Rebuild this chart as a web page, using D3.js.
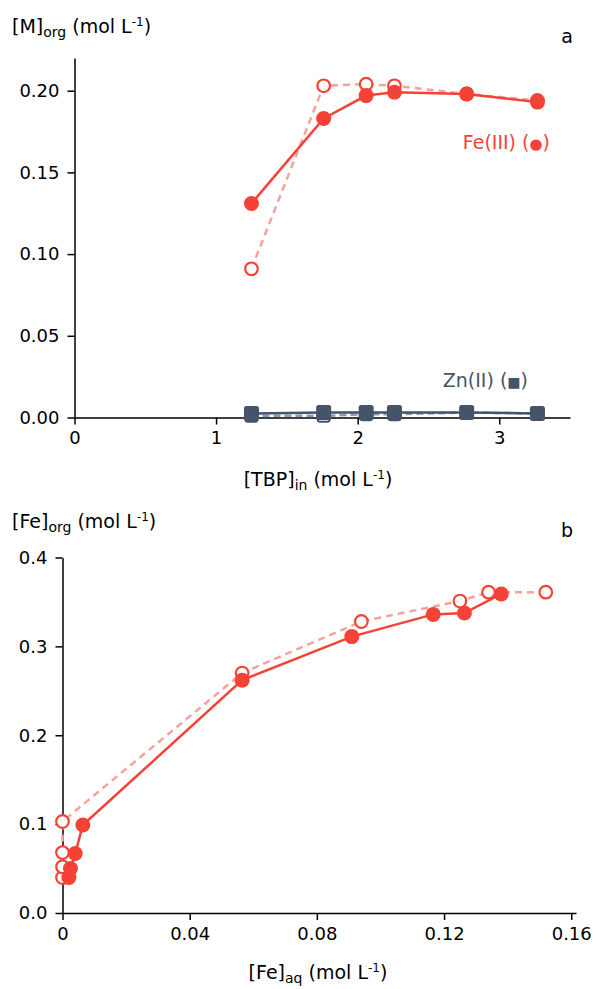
<!DOCTYPE html>
<html>
<head>
<meta charset="utf-8">
<script src="https://cdn.jsdelivr.net/npm/d3@7"></script>
<style>
  body { margin: 0; background: #fff; }
  svg { display: block; font-family: "DejaVu Sans", sans-serif; }
  .axis path, .axis line { stroke: #000; stroke-width: 1.5; }
  .axis text { font-size: 18px; fill: #000; font-family: "DejaVu Sans", sans-serif; }
</style>
</head>
<body>
<div id="chart"></div>
<script>
// panel a: [TBP]in vs [M]org
var tbp = [1.25, 1.76, 2.06, 2.26, 2.77, 3.27];
var feFilledA = [0.131, 0.183, 0.197, 0.199, 0.198, 0.193];
var feOpenA = [0.091, 0.203, 0.204, 0.203, 0.198, 0.194];
var znFilledA = [0.0025, 0.003, 0.003, 0.003, 0.003, 0.0025];
var znOpenA = [0.001, 0.001, 0.002, 0.002, 0.003, 0.0025];
var ticksXA = [0, 1, 2, 3];
var ticksYA = [0, 0.05, 0.10, 0.15, 0.20];

// panel b: [Fe]aq vs [Fe]org
var feAqFilled = [0.002, 0.0025, 0.004, 0.0064, 0.0565, 0.091, 0.1166, 0.1264, 0.138];
var feOrgFilled = [0.040, 0.050, 0.067, 0.099, 0.262, 0.311, 0.336, 0.3375, 0.359];
var feAqOpen = [0, 0, 0, 0, 0.0565, 0.094, 0.125, 0.134, 0.152];
var feOrgOpen = [0.040, 0.052, 0.068, 0.103, 0.270, 0.328, 0.351, 0.361, 0.361];
var ticksXB = [0, 0.04, 0.08, 0.12, 0.16];
var ticksYB = [0, 0.1, 0.2, 0.3, 0.4];

var feRed = "#F44336", fePink = "#F6A29C", znDark = "#44546A", znLight = "#8A9AB0";

var W = 597, H = 989;
var svg = d3.select("#chart").append("svg").attr("width", W).attr("height", H);

function zip(xs, ys) { return xs.map(function(x, i) { return [x, ys[i]]; }); }

function axes(x, y, xt, yt, xfmt, yfmt) {
    svg.append("g").attr("class", "axis")
        .attr("transform", "translate(0," + y.range()[0] + ")")
        .call(d3.axisBottom(x).tickValues(xt).tickFormat(xfmt).tickSize(7).tickSizeOuter(0).tickPadding(7));
    var gy = svg.append("g").attr("class", "axis")
        .attr("transform", "translate(" + x.range()[0] + ",0)")
        .call(d3.axisLeft(y).tickValues(yt).tickFormat(yfmt).tickSize(7).tickSizeOuter(0).tickPadding(6));
    gy.selectAll("text").attr("dx", -2);
}

function series(x, y, pts, color, width, dash) {
    svg.append("path").datum(pts)
        .attr("fill", "none").attr("stroke", color).attr("stroke-width", width)
        .attr("stroke-dasharray", dash || null)
        .attr("d", d3.line().x(function(d) { return x(d[0]); }).y(function(d) { return y(d[1]); }));
}

function circles(x, y, pts, open) {
    svg.append("g").selectAll("circle").data(pts).enter().append("circle")
        .attr("cx", function(d) { return x(d[0]); })
        .attr("cy", function(d) { return y(d[1]); })
        .attr("r", open ? 6.3 : 7.5)
        .attr("fill", open ? "#fff" : feRed)
        .attr("stroke", feRed).attr("stroke-width", open ? 2.2 : 0);
}

function squares(x, y, pts, open) {
    var s = open ? 12 : 15;
    svg.append("g").selectAll("rect").data(pts).enter().append("rect")
        .attr("x", function(d) { return x(d[0]) - s / 2; })
        .attr("y", function(d) { return y(d[1]) - s / 2; })
        .attr("width", s).attr("height", s).attr("rx", 2.5)
        .attr("fill", open ? "#fff" : znDark)
        .attr("stroke", znDark).attr("stroke-width", open ? 2 : 0);
}

function title(x, y, main, sub, anchor) {
    var t = svg.append("text").attr("x", x).attr("y", y).attr("font-size", 19)
        .attr("text-anchor", anchor || "start").attr("fill", "#000");
    t.append("tspan").text(main);
    t.append("tspan").attr("font-size", 14).attr("dy", 4).text(sub);
    t.append("tspan").attr("dy", -4).text(" (mol L");
    t.append("tspan").attr("font-size", 12).attr("dy", -7).text("-1");
    t.append("tspan").attr("dy", 7).text(")");
}

// ---- panel a
var xA = d3.scaleLinear().domain([0, 3.5]).range([74.5, 570]);
var yA = d3.scaleLinear().domain([0, 0.22]).range([417.5, 58]);
axes(xA, yA, ticksXA, ticksYA, d3.format("d"), d3.format(".2f"));

series(xA, yA, zip(tbp, znOpenA), znLight, 2.5, "7,4");
squares(xA, yA, zip(tbp, znOpenA), true);
series(xA, yA, zip(tbp, znFilledA), znDark, 2.5);
squares(xA, yA, zip(tbp, znFilledA), false);

series(xA, yA, zip(tbp, feOpenA), fePink, 2.5, "7,5");
circles(xA, yA, zip(tbp, feOpenA), true);
series(xA, yA, zip(tbp, feFilledA), feRed, 2.5);
circles(xA, yA, zip(tbp, feFilledA), false);

var feLab = svg.append("text").attr("x", 550).attr("y", 149).attr("text-anchor", "end")
    .attr("font-size", 19).attr("fill", feRed);
feLab.append("tspan").text("Fe(III) (");
feLab.append("tspan").attr("font-size", 15).text("\u25CF");
feLab.append("tspan").text(")");
var znLab = svg.append("text").attr("x", 528).attr("y", 387).attr("text-anchor", "end")
    .attr("font-size", 19).attr("fill", znDark);
znLab.append("tspan").text("Zn(II) (");
znLab.append("tspan").attr("font-size", 14).text("\u25A0");
znLab.append("tspan").text(")");

title(12, 33, "[M]", "org", "start");
title(318, 486, "[TBP]", "in", "middle");
svg.append("text").attr("x", 573).attr("y", 43).attr("text-anchor", "end")
    .attr("font-size", 19).text("a");

// ---- panel b
var xB = d3.scaleLinear().domain([0, 0.1615]).range([62.5, 576]);
var yB = d3.scaleLinear().domain([0, 0.4]).range([913, 557.5]);
axes(xB, yB, ticksXB, ticksYB, function(d) { return d === 0 ? "0" : d3.format(".2f")(d).replace(/0$/, ""); }, d3.format(".1f"));

series(xB, yB, zip(feAqOpen, feOrgOpen), fePink, 2.5, "7,5");
circles(xB, yB, zip(feAqOpen, feOrgOpen), true);
series(xB, yB, zip(feAqFilled, feOrgFilled), feRed, 2.5);
circles(xB, yB, zip(feAqFilled, feOrgFilled), false);

title(12, 528, "[Fe]", "org", "start");
title(318, 979, "[Fe]", "aq", "middle");
svg.append("text").attr("x", 573).attr("y", 537).attr("text-anchor", "end")
    .attr("font-size", 19).text("b");
</script>
</body>
</html>
